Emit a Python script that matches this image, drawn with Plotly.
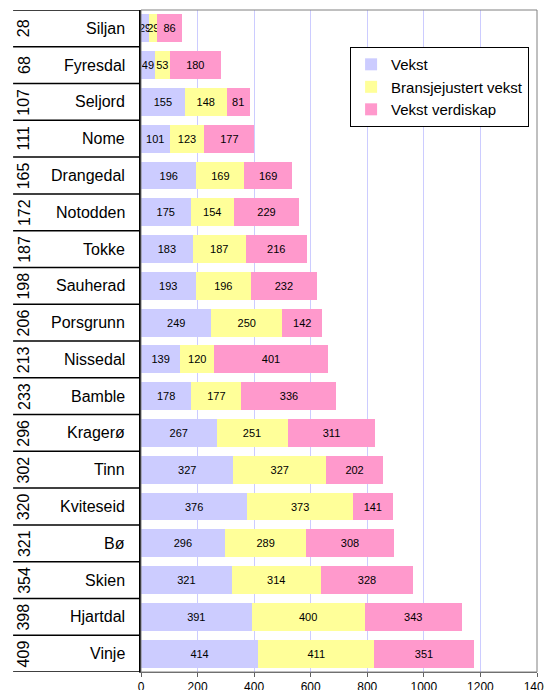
import plotly.graph_objects as go

kommuner = ["Siljan", "Fyresdal", "Seljord", "Nome", "Drangedal", "Notodden", "Tokke",
            "Sauherad", "Porsgrunn", "Nissedal", "Bamble", "Kragerø", "Tinn", "Kviteseid",
            "Bø", "Skien", "Hjartdal", "Vinje"]
rangering = [28, 68, 107, 111, 165, 172, 187, 198, 206, 213, 233, 296, 302, 320, 321, 354, 398, 409]
vekst = [29, 49, 155, 101, 196, 175, 183, 193, 249, 139, 178, 267, 327, 376, 296, 321, 391, 414]
bransje = [29, 53, 148, 123, 169, 154, 187, 196, 250, 120, 177, 251, 327, 373, 289, 314, 400, 411]
verdiskap = [86, 180, 81, 177, 169, 229, 216, 232, 142, 401, 336, 311, 202, 141, 308, 328, 343, 351]
series_names = ["Vekst", "Bransjejustert vekst", "Vekst verdiskap"]
colors = ["#CCCCFF", "#FFFF99", "#FF99CC"]
x_ticks = [0, 200, 400, 600, 800, 1000, 1200, 1400]

FONT = "Liberation Sans, Arial, sans-serif"

fig = go.Figure()
for name, vals, col in zip(series_names, [vekst, bransje, verdiskap], colors):
    fig.add_trace(go.Bar(
        y=kommuner, x=vals, name=name, orientation="h",
        marker=dict(color=col, line=dict(width=0)),
        text=[str(v) for v in vals], textposition="inside", insidetextanchor="middle",
        textangle=0, constraintext="none",
        textfont=dict(size=11, color="black", family=FONT),
    ))

shapes = []
n = len(kommuner)
for i in range(n + 1):
    shapes.append(dict(type="line", xref="paper", yref="y", x0=-0.323, x1=0,
                       y0=i - 0.5, y1=i - 0.5, line=dict(color="black", width=1.5)))
shapes.append(dict(type="rect", xref="paper", yref="paper", x0=0, x1=1, y0=0, y1=1,
                   line=dict(color="#808080", width=1), layer="above"))

annotations = []
for i, (k, r) in enumerate(zip(kommuner, rangering)):
    annotations.append(dict(xref="paper", yref="y", x=-0.035, y=i, text=k, showarrow=False,
                            xanchor="right", yanchor="middle",
                            font=dict(size=16, color="black", family=FONT)))
    annotations.append(dict(xref="paper", yref="y", x=-0.296, y=i, text=str(r), showarrow=False,
                            textangle=-90, xanchor="center", yanchor="middle",
                            font=dict(size=16, color="black", family=FONT)))

fig.update_layout(
    width=544, height=682,
    margin=dict(l=133, r=15, t=2, b=18, autoexpand=False),
    barmode="stack", bargap=0.24,
    plot_bgcolor="white", paper_bgcolor="white",
    font=dict(family=FONT, color="black"),
    xaxis=dict(range=[0, 1400], tickvals=x_ticks, showgrid=True, gridcolor="#CCCCFF",
               gridwidth=1, zeroline=False, showline=True, linecolor="#606060", linewidth=1,
               ticks="outside", ticklen=4, tickcolor="#606060",
               tickfont=dict(size=12, family=FONT), automargin=False),
    yaxis=dict(categoryorder="array", categoryarray=kommuner, range=[n - 0.5, -0.5],
               showticklabels=False, showgrid=False, zeroline=False, showline=True,
               linecolor="black", linewidth=2, ticks="", automargin=False),
    legend=dict(x=0.528, y=0.944, xanchor="left", yanchor="top", traceorder="normal",
                bgcolor="white", bordercolor="black", borderwidth=1,
                font=dict(size=15, family=FONT), itemwidth=30, tracegroupgap=0),
    shapes=shapes, annotations=annotations, showlegend=True,
)

fig.write_html("out.html")
